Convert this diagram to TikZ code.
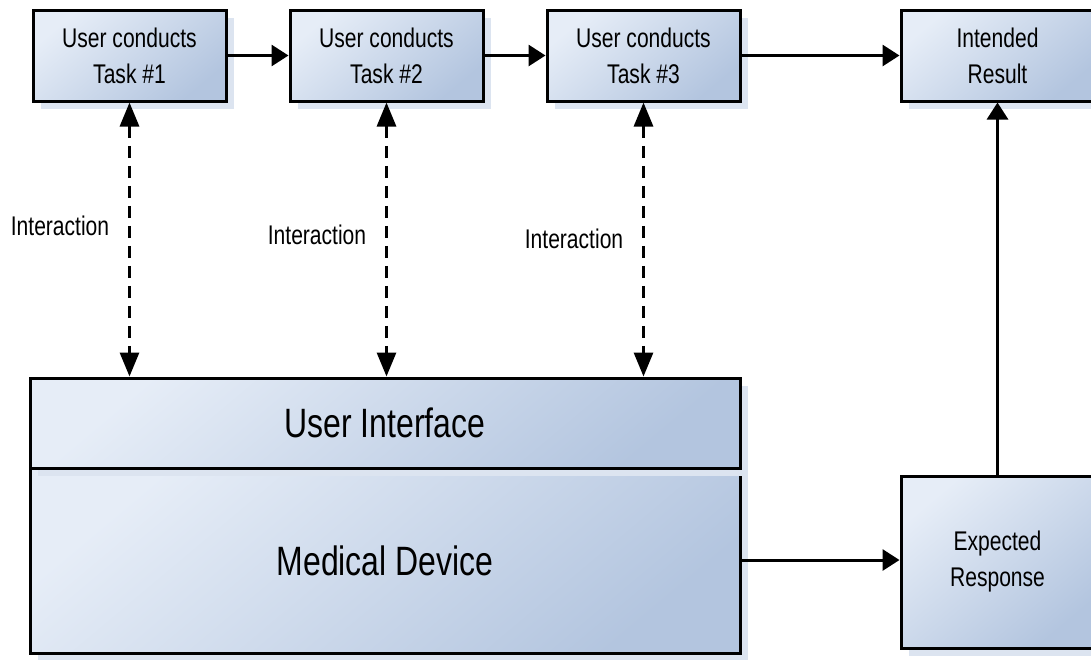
\documentclass[tikz,border=0pt]{standalone}
\usepackage{fontspec}
\setmainfont{Liberation Sans}[FakeStretch=0.78]
\usetikzlibrary{arrows.meta,shadows}
\definecolor{boxlight}{HTML}{E6EDF7}
\definecolor{boxdark}{HTML}{B3C5DF}
\definecolor{shadowblue}{HTML}{DCE4F0}
\tikzset{
  block/.style={draw=black, line width=3pt, top color=boxlight, bottom color=boxdark,
    shading angle=40, align=center, inner sep=0pt,
    drop shadow={shadow xshift=8pt, shadow yshift=-8pt, fill=shadowblue, opacity=1}},
  small/.style={font=\fontsize{27}{36}\selectfont},
  large/.style={font=\fontsize{41}{48}\selectfont},
  task/.style={block, small, minimum width=193pt, minimum height=91pt},
  flow/.style={line width=3pt, -{Triangle[length=17pt,width=21pt]}},
  talk/.style={line width=3pt, dash pattern=on 12pt off 8pt,
    {Triangle[length=24pt,width=19pt]}-{Triangle[length=24pt,width=19pt]}}
}
\begin{document}
\begin{tikzpicture}[x=1pt, y=-1pt]
      \useasboundingbox (0,0) rectangle (1091,659);
      \clip (0,0) rectangle (1091,659);
      \node[task] (t1) at (129.5,55.5) {User conducts\\Task \#1};
      \node[task] (t2) at (386.5,55.5) {User conducts\\Task \#2};
      \node[task] (t3) at (643.5,55.5) {User conducts\\Task \#3};
      \node[task] (res) at (997.5,55.5) {Intended\\Result};
      \node[block, large, minimum width=710pt, minimum height=185pt] (md) at (385,560.5) {Medical Device};
      \node[block, large, minimum width=710pt, minimum height=90pt] (ui) at (385,423) {User Interface};
      \node[block, small, minimum width=193pt, minimum height=172pt] (er) at (997.5,562) {Expected\\Response};
      \node[small] (i1) at (60,226) {Interaction};
      \node[small] (i2) at (317,235) {Interaction};
      \node[small] (i3) at (574,239) {Interaction};
      \begin{scope}[flow]
        \draw (t1) to (t2);
        \draw (t2) to (t3);
        \draw (t3) to (res);
        \draw (er) to (res);
        \draw (md.east |- 0,560) to (er.west |- 0,560);
      \end{scope}
      \begin{scope}[talk]
        \draw (t1.south) to (t1.south |- ui.north);
        \draw (t2.south) to (t2.south |- ui.north);
        \draw (t3.south) to (t3.south |- ui.north);
      \end{scope}
    \end{tikzpicture}
\end{document}
